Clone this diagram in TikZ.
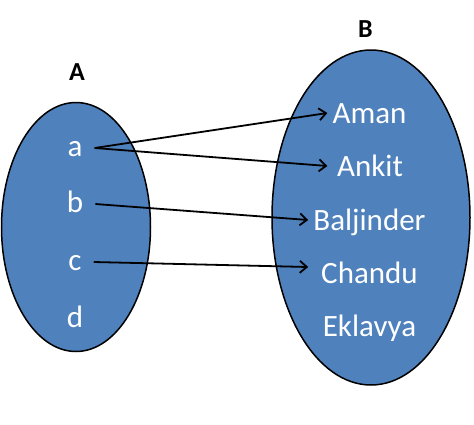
\documentclass[tikz,border=0pt]{standalone}
\usepackage{fontspec}
\setmainfont{Carlito}
\usetikzlibrary{shapes.geometric,arrows.meta}
\definecolor{setblue}{HTML}{4F81BD}
\begin{document}
\begin{tikzpicture}[x=1pt,y=-1pt,
  setshape/.style={ellipse, draw=black, line width=1.5pt, fill=setblue, inner sep=0pt},
  setlabel/.style={font=\fontsize{26}{30}\selectfont\bfseries, text=black},
  elemleft/.style={font=\fontsize{31}{36}\selectfont, text=white, text height=16.4pt, text depth=0pt, inner sep=12pt},
  elemright/.style={font=\fontsize{31}{36}\selectfont, text=white, text height=20pt, text depth=0pt, inner sep=5pt},
  maplink/.style={draw=black, line width=1.8pt, -{Straight Barb[length=7pt,width=12pt,line width=1.8pt]}}]
\useasboundingbox (0,0) rectangle (474,424);
\fill[white] (0,0) rectangle (474,424);
\node[setshape, minimum width=149pt, minimum height=249pt] (setA) at (76,227) {};
\node[setshape, minimum width=198pt, minimum height=335pt] (setB) at (371,217.5) {};
\node[setlabel] (labA) at (77,72) {A};
\node[setlabel] (labB) at (365.5,29.5) {B};
\node[elemleft] (a) at (75,148) {a};
\node[elemleft] (b) at (75,204) {b};
\node[elemleft] (c) at (75,262) {c};
\node[elemleft] (d) at (75,319) {d};
\node[elemright] (aman) at (369.5,113) {Aman};
\node[elemright] (ankit) at (370,166) {Ankit};
\node[elemright] (balj) at (369.5,220) {Baljinder};
\node[elemright] (chandu) at (369.5,273) {Chandu};
\node[elemright] (eklavya) at (369.5,326) {Eklavya};
\draw[maplink] (a.east) -- (aman.west);
\draw[maplink] (a.east) -- (ankit.west -| aman.west);
\draw[maplink] (b.east) -- (balj.west);
\draw[maplink] (c.east) -- ([yshift=6pt]chandu.west -| balj.west);
\end{tikzpicture}
\end{document}
